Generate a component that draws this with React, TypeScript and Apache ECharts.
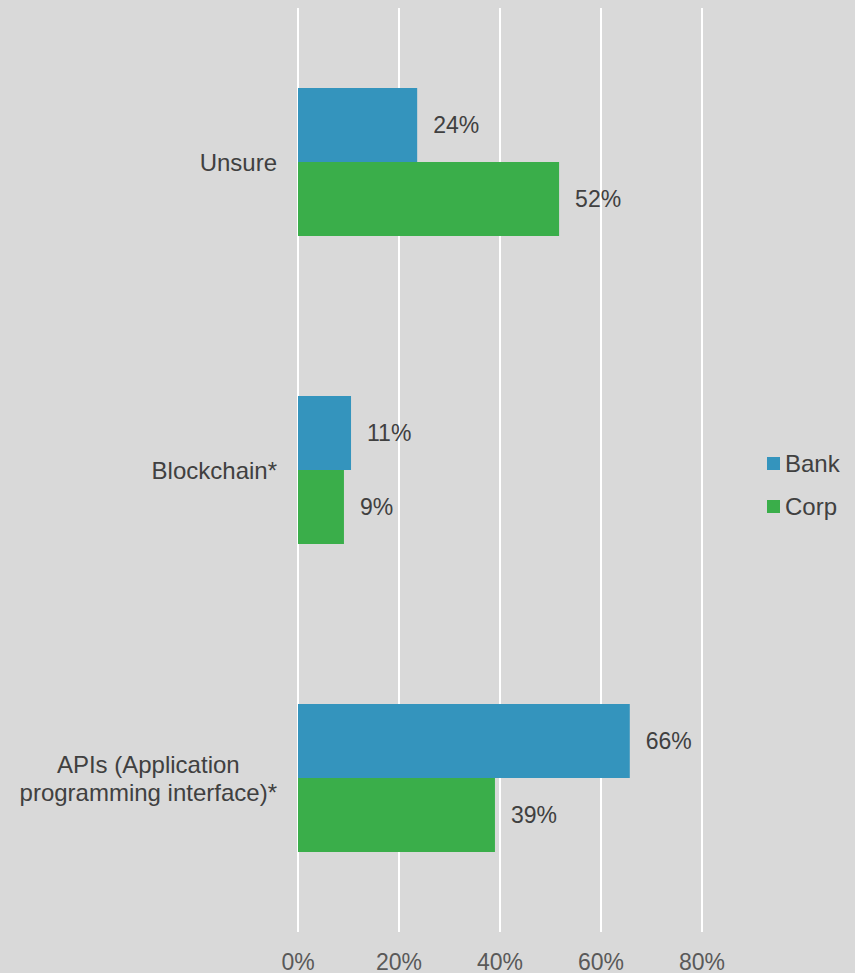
import React, { useEffect, useRef } from "react";
import * as echarts from "echarts";

const categories = ["APIs (Application\nprogramming interface)*", "Blockchain*", "Unsure"];
const bankValues = [65.7, 10.5, 23.6];
const corpValues = [39.0, 9.1, 51.7];
const xTicks = [0, 20, 40, 60, 80];

const FONT = "'Liberation Sans', Arial, sans-serif";

export default function App() {
  const ref = useRef<HTMLDivElement>(null);
  useEffect(() => {
    if (!ref.current) return;
    const chart = echarts.init(ref.current, undefined, { renderer: "svg" });
    const valueLabel = {
      show: true,
      position: "right" as const,
      distance: 16,
      fontSize: 23,
      fontFamily: FONT,
      color: "#404040",
      formatter: (p: any) => Math.round(p.value) + "%",
    };
    chart.setOption({
      animation: false,
      backgroundColor: "#d9d9d9",
      textStyle: { fontFamily: FONT },
      grid: { left: 298, top: 8, width: 404, height: 924, containLabel: false },
      legend: {
        orient: "vertical",
        left: 767,
        top: 451,
        padding: 0,
        itemWidth: 13,
        itemHeight: 13,
        itemGap: 18,
        icon: "rect",
        textStyle: { fontSize: 24, fontFamily: FONT, color: "#404040", lineHeight: 25 },
        data: ["Bank", "Corp"],
      },
      xAxis: {
        type: "value",
        min: xTicks[0],
        max: xTicks[xTicks.length - 1],
        interval: 20,
        axisLine: { show: false },
        axisTick: { show: false },
        splitLine: { show: true, lineStyle: { color: "#ffffff", width: 2 } },
        axisLabel: {
          margin: 18,
          fontSize: 23,
          fontFamily: FONT,
          color: "#595959",
          formatter: (v: number) => v + "%",
        },
      },
      yAxis: {
        type: "category",
        data: categories,
        axisLine: { show: false },
        axisTick: { show: false },
        axisLabel: {
          margin: 21,
          fontSize: 24,
          fontFamily: FONT,
          color: "#404040",
          lineHeight: 28,
          formatter: (v: string) =>
            v
              .split("\n")
              .map((l) => "{c|" + l + "}")
              .join("\n"),
          rich: {
            c: { align: "center", fontSize: 24, fontFamily: FONT, color: "#404040", lineHeight: 28 },
          },
        },
      },
      series: [
        {
          name: "Bank",
          type: "bar",
          data: bankValues,
          barCategoryGap: "52%",
          barGap: "0%",
          itemStyle: { color: "#3494bd" },
          label: valueLabel,
        },
        {
          name: "Corp",
          type: "bar",
          data: corpValues,
          barCategoryGap: "52%",
          barGap: "0%",
          itemStyle: { color: "#3aae4a" },
          label: valueLabel,
        },
      ],
    });
    return () => chart.dispose();
  }, []);
  return <div ref={ref} style={{ width: 855, height: 973, position: "fixed", left: 0, top: 0 }} />;
}
